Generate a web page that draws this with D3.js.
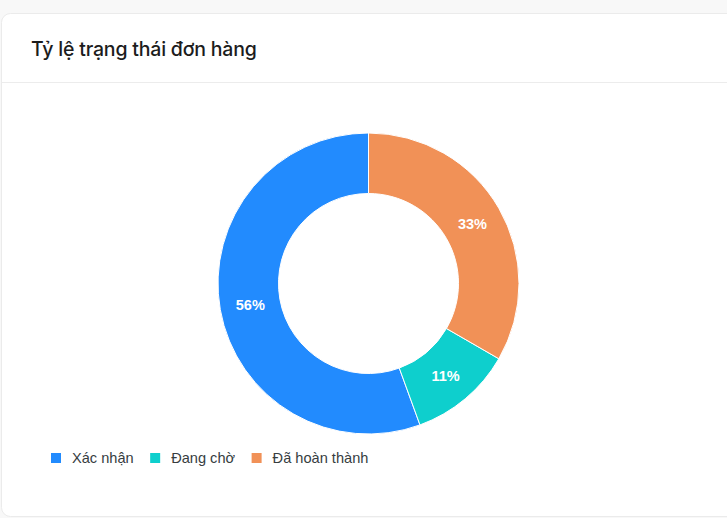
<!DOCTYPE html>
<html>
<head>
<meta charset="utf-8">
<script src="https://cdn.jsdelivr.net/npm/d3@7"></script>
<style>
  html, body { margin: 0; padding: 0; background: #f8f8f8; }
  svg { display: block; }
</style>
</head>
<body>
<svg id="chart" width="727" height="518"></svg>
<script>
// order status counts (shown as share of total)
const labels = ['Xác nhận', 'Đang chờ', 'Đã hoàn thành'];
const counts = [5, 1, 3];
const colors = ['#228bfe', '#0ecfcd', '#f19157'];

const svg = d3.select('#chart');

// card
svg.append('rect')
    .attr('x', 1.5).attr('y', 13.5)
    .attr('width', 760).attr('height', 503)
    .attr('rx', 9)
    .attr('fill', '#fff')
    .attr('stroke', '#ebebeb');

svg.append('line')
    .attr('x1', 2).attr('x2', 727)
    .attr('y1', 82.5).attr('y2', 82.5)
    .attr('stroke', '#ececec');

svg.append('text')
    .attr('x', 31).attr('y', 56)
    .attr('font-family', 'Inter, "Noto Sans", sans-serif')
    .attr('font-weight', 500)
    .attr('font-size', 19.5)
    .attr('letter-spacing', -0.2)
    .attr('fill', '#1c1c1c')
    .text('Tỷ lệ trạng thái đơn hàng');

// donut
const cx = 368.5, cy = 283.5;
const outerR = 150.5, innerR = 90;
const total = d3.sum(counts);

// drawn counter-clockwise from the top
const pie = d3.pie().sort(null)
    .startAngle(0).endAngle(-2 * Math.PI)
    .value(d => d);
const arc = d3.arc().innerRadius(innerR).outerRadius(outerR);
const labelArc = d3.arc().innerRadius(120).outerRadius(120);

const g = svg.append('g').attr('transform', `translate(${cx},${cy})`);
const arcs = pie(counts);

g.selectAll('path')
    .data(arcs)
    .join('path')
    .attr('d', arc)
    .attr('fill', (d, i) => colors[i])
    .attr('stroke', '#fff')
    .attr('stroke-width', 1);

g.selectAll('text')
    .data(arcs)
    .join('text')
    .attr('transform', d => `translate(${labelArc.centroid(d)})`)
    .attr('text-anchor', 'middle')
    .attr('dy', '0.36em')
    .attr('font-family', '"Liberation Sans", Arial, sans-serif')
    .attr('font-weight', 'bold')
    .attr('font-size', 14.5)
    .attr('fill', '#fff')
    .text(d => Math.round(d.data / total * 100) + '%');

// legend
const legend = svg.append('g').attr('transform', 'translate(51,453)');
let lx = 0;
labels.forEach((name, i) => {
    const item = legend.append('g').attr('transform', `translate(${lx},0)`);
    item.append('rect')
        .attr('width', 10).attr('height', 10)
        .attr('fill', colors[i]);
    const t = item.append('text')
        .attr('x', 21).attr('y', 10.3)
        .attr('font-family', '"Liberation Sans", Arial, sans-serif')
        .attr('font-size', 14.6)
        .attr('fill', '#373d3f')
        .text(name);
    lx += 21 + t.node().getComputedTextLength() + 16.5;
});
</script>
</body>
</html>
